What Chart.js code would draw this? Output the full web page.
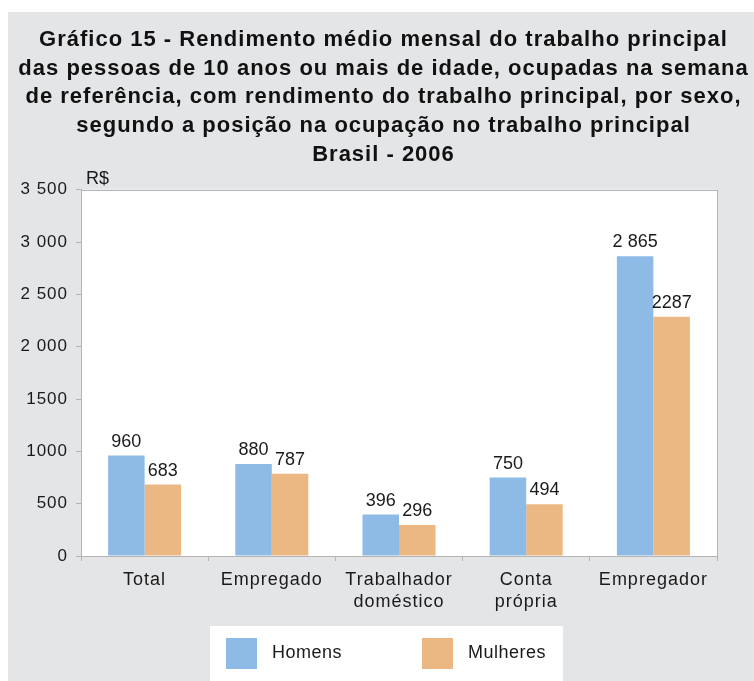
<!DOCTYPE html>
<html><head><meta charset="utf-8">
<script src="https://cdn.jsdelivr.net/npm/chart.js@4"></script>
<style>html,body{margin:0;padding:0;background:#fff}#wrap{width:754px;height:681px}</style>
</head><body><div id="wrap"><canvas id="c" width="754" height="681"></canvas></div>
<script>
const titleLines = [
  "Gráfico 15 - Rendimento médio mensal do trabalho principal",
  "das pessoas de 10 anos ou mais de idade, ocupadas na semana",
  "de referência, com rendimento do trabalho principal, por sexo,",
  "segundo a posição na ocupação no trabalho principal",
  "Brasil - 2006"
];
const unitLabel = "R$";
const categories = ["Total", "Empregado", ["Trabalhador", "doméstico"], ["Conta", "própria"], "Empregador"];
const seriesNames = ["Homens", "Mulheres"];
const homens = [960, 880, 396, 750, 2865];
const mulheres = [683, 787, 296, 494, 2287];
const homensLabels = ["960", "880", "396", "750", "2 865"];
const mulheresLabels = ["683", "787", "296", "494", "2287"];
const yTickValues = [0, 500, 1000, 1500, 2000, 2500, 3000, 3500];
const yTickLabels = ["0", "500", "1000", "1500", "2 000", "2 500", "3 000", "3 500"];

const BLUE = "#8EBBE6", ORANGE = "#EBB884", GRAYBG = "#E4E5E7", AXIS = "#B4B4B4", TXT = "#1a1a1a";
const FONT = "'Liberation Sans', Arial, Helvetica, sans-serif";

const bgPlugin = {
  id: "bg",
  beforeDraw(chart) {
    const ctx = chart.ctx, a = chart.chartArea;
    ctx.save();
    ctx.fillStyle = "#fff";
    ctx.fillRect(0, 0, chart.width, chart.height);
    ctx.fillStyle = GRAYBG;
    ctx.fillRect(8, 12, chart.width - 8, chart.height - 12);
    ctx.fillStyle = "#fff";
    ctx.fillRect(a.left, a.top, a.right - a.left, a.bottom - a.top);
    ctx.restore();
    // print-style tracking for title and axis labels
    if ('letterSpacing' in ctx) ctx.letterSpacing = "1px";
  },
  afterDatasetsDraw(chart) {
    const ctx = chart.ctx;
    if ('letterSpacing' in ctx) ctx.letterSpacing = "0px";
    ctx.save();
    ctx.fillStyle = TXT;
    ctx.font = "18px " + FONT;
    ctx.textAlign = "center";
    ctx.textBaseline = "alphabetic";
    chart.data.datasets.forEach((ds, di) => {
      const meta = chart.getDatasetMeta(di);
      meta.data.forEach((bar, i) => {
        ctx.fillText(ds.valueLabels[i], bar.x, bar.y - 9);
      });
    });
    ctx.restore();
  },
  afterDraw(chart) {
    const ctx = chart.ctx, a = chart.chartArea;
    if ('letterSpacing' in ctx) ctx.letterSpacing = "0px";
    ctx.save();
    ctx.strokeStyle = AXIS;
    ctx.lineWidth = 1;
    ctx.strokeRect(Math.round(a.left) + 0.5, Math.round(a.top) + 0.5, Math.round(a.right - a.left), Math.round(a.bottom - a.top));
    // unit label
    ctx.fillStyle = TXT;
    ctx.font = "18px " + FONT;
    ctx.textAlign = "left";
    ctx.textBaseline = "middle";
    ctx.fillText(unitLabel, a.left + 5, a.top - 11);
    // legend
    ctx.fillStyle = "#fff";
    ctx.fillRect(210, 626, 353, chart.height - 626);
    const xs = [226, 422];
    if ('letterSpacing' in ctx) ctx.letterSpacing = "0.5px";
    chart.data.datasets.forEach((ds, i) => {
      ctx.fillStyle = ds.backgroundColor;
      ctx.fillRect(xs[i], 638, 31, 31);
      ctx.fillStyle = TXT;
      ctx.fillText(ds.label, xs[i] + 46, 653);
    });
    ctx.restore();
  }
};

new Chart(document.getElementById("c"), {
  type: "bar",
  data: {
    labels: categories,
    datasets: [
      { label: seriesNames[0], data: homens, valueLabels: homensLabels, backgroundColor: BLUE },
      { label: seriesNames[1], data: mulheres, valueLabels: mulheresLabels, backgroundColor: ORANGE }
    ]
  },
  options: {
    responsive: false,
    animation: false,
    devicePixelRatio: 1,
    layout: { padding: { left: 13, right: 0, top: 0, bottom: 0 } },
    datasets: { bar: { barPercentage: 1, categoryPercentage: 0.574, borderWidth: 0 } },
    plugins: {
      legend: { display: false },
      tooltip: { enabled: false },
      title: {
        display: true,
        text: titleLines,
        color: "#111",
        font: { family: FONT, size: 22, weight: "bold", lineHeight: 1.303 },
        padding: { top: 25.6, bottom: 20.8 }
      }
    },
    scales: {
      x: {
        afterFit(s) { s.height = 125; },
        grid: { display: true, offset: true, drawOnChartArea: false, drawTicks: true, tickLength: 5, color: AXIS },
        border: { display: true, color: AXIS },
        ticks: { color: TXT, font: { family: FONT, size: 18, lineHeight: 1.22 }, padding: 8, maxRotation: 0, autoSkip: false }
      },
      y: {
        min: 0, max: 3500,
        afterFit(s) { s.width = 68; },
        afterBuildTicks(s) { s.ticks = yTickValues.map(v => ({ value: v })); },
        grid: { display: true, drawOnChartArea: false, drawTicks: true, tickLength: 5, color: AXIS },
        border: { display: true, color: AXIS },
        ticks: {
          color: TXT, font: { family: FONT, size: 17 }, padding: 8,
          callback(v) { const i = yTickValues.indexOf(v); return i >= 0 ? yTickLabels[i] : ""; }
        }
      },
      yRight: {
        type: "linear",
        position: "right",
        display: true,
        afterFit(s) { s.width = 37; },
        grid: { display: false },
        border: { display: false },
        ticks: { display: false }
      }
    }
  },
  plugins: [bgPlugin]
});
</script></body></html>
